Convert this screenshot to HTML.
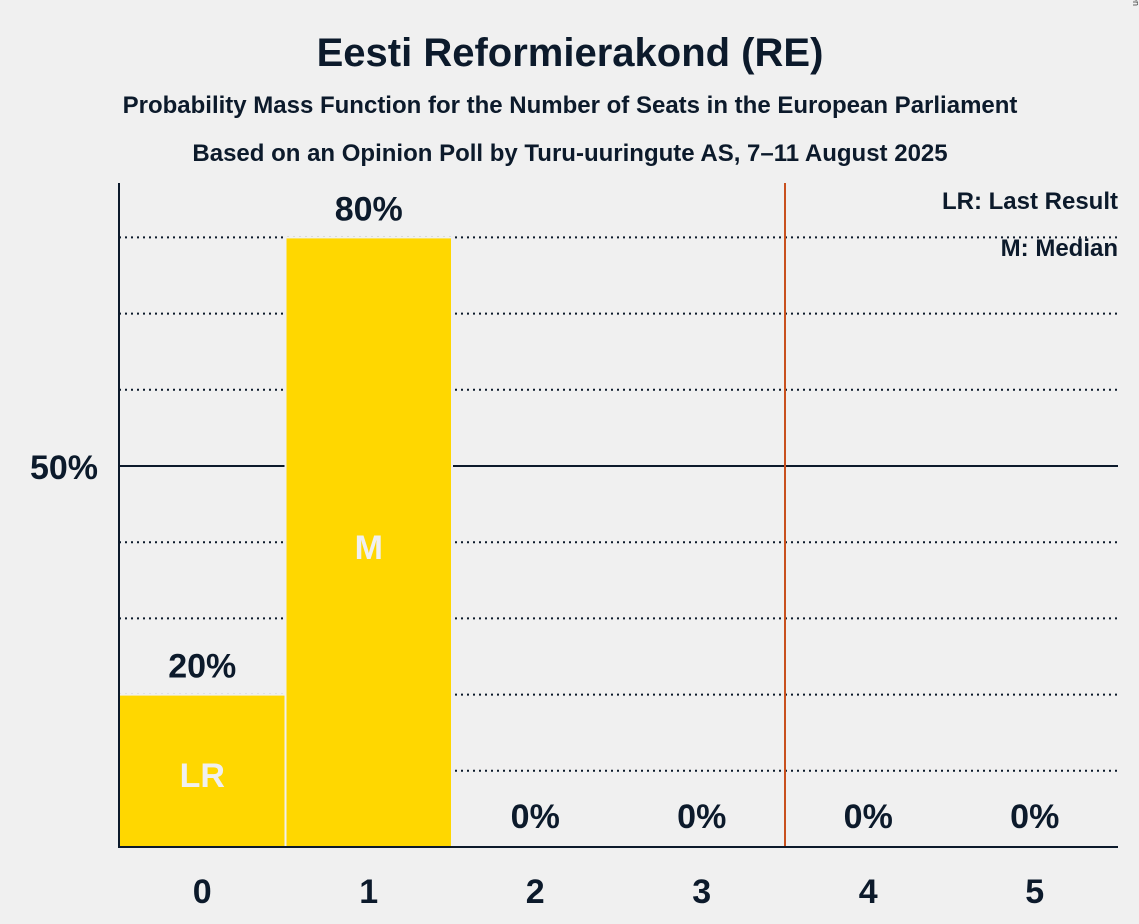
<!DOCTYPE html>
<html><head><meta charset="utf-8"><style>
body{margin:0;background:#f0f0f0;}
svg{display:block;font-family:"Liberation Sans",sans-serif;}
</style></head><body>
<svg id="c" width="1139" height="924" viewBox="0 0 1139 924">
<rect width="1139" height="924" fill="#f0f0f0"/>
<text x="570" y="66" text-anchor="middle" font-size="40" font-weight="bold" fill="#0c1a2b">Eesti Reformierakond (RE)</text>
<text x="570" y="113" text-anchor="middle" font-size="24" font-weight="bold" fill="#0c1a2b">Probability Mass Function for the Number of Seats in the European Parliament</text>
<text x="570" y="161" text-anchor="middle" font-size="24" font-weight="bold" fill="#0c1a2b">Based on an Opinion Poll by Turu-uuringute AS, 7–11 August 2025</text>
<text x="1133" y="6" transform="rotate(90 1133 6)" font-size="9" fill="#333" text-anchor="end" dx="0">© 2025 Filip van Laenen</text>
<g id="grid"></g>
<g id="bars"></g>
<line x1="785" y1="183" x2="785" y2="847" stroke="#c8501e" stroke-width="2"/>
<line x1="119" y1="183" x2="119" y2="848" stroke="#0c1a2b" stroke-width="2"/>
<line x1="118" y1="847" x2="1118" y2="847" stroke="#0c1a2b" stroke-width="2"/>
<text x="98" y="479" text-anchor="end" font-size="34" font-weight="bold" fill="#0c1a2b">50%</text>
<text x="1118" y="209" text-anchor="end" font-size="24" font-weight="bold" fill="#0c1a2b">LR: Last Result</text>
<text x="1118" y="256" text-anchor="end" font-size="24" font-weight="bold" fill="#0c1a2b">M: Median</text>
</svg>
<script>
const seats=[0,1,2,3,4,5];
const probs=[20,80,0,0,0,0];
const labels=["20%","80%","0%","0%","0%","0%"];
const inner=["LR","M","","","",""];
const x0=119,x1=1118,y0=847,ppp=7.62;
const bw=(x1-x0)/seats.length;
const xs=i=>x0+i*bw;
const ys=v=>y0-v*ppp;
const ns="http://www.w3.org/2000/svg";
const g=document.getElementById('grid'),b=document.getElementById('bars');
for(let v=10;v<=80;v+=10){
 const l=document.createElementNS(ns,'line');
 l.setAttribute('x1',x0);l.setAttribute('x2',x1);l.setAttribute('y1',ys(v));l.setAttribute('y2',ys(v));
 l.setAttribute('stroke','#0c1a2b');
 if(v===50){l.setAttribute('stroke-width','2');}else{l.setAttribute('stroke-width','2');l.setAttribute('stroke-dasharray','2 4');}
 
 
 g.appendChild(l);
}
seats.forEach((s,i)=>{
 const cx=xs(i)+bw/2;
 if(probs[i]>0){
  const r=document.createElementNS(ns,'rect');
  r.setAttribute('x',xs(i));r.setAttribute('y',ys(probs[i]));r.setAttribute('width',bw);r.setAttribute('height',y0-ys(probs[i]));
  r.setAttribute('fill','#ffd700');r.setAttribute('stroke','#f0f0f0');r.setAttribute('stroke-width','2');
  
  
  b.appendChild(r);
 }
 const t=document.createElementNS(ns,'text');
 t.setAttribute('x',cx);t.setAttribute('y',probs[i]>0?ys(probs[i])-17:y0-19);
 t.setAttribute('text-anchor','middle');t.setAttribute('font-size','34');t.setAttribute('font-weight','bold');t.setAttribute('fill','#0c1a2b');
 t.textContent=labels[i];
 
 
 b.appendChild(t);
 if(inner[i]){
  const m=document.createElementNS(ns,'text');
  m.setAttribute('x',cx);m.setAttribute('y',i===0?787:559);
  m.setAttribute('text-anchor','middle');m.setAttribute('font-size','34');m.setAttribute('font-weight','bold');m.setAttribute('fill','#f0f0f0');
  m.textContent=inner[i];
  
  
  b.appendChild(m);
 }
 const xt=document.createElementNS(ns,'text');
 xt.setAttribute('x',cx);xt.setAttribute('y',903);
 xt.setAttribute('text-anchor','middle');xt.setAttribute('font-size','34');xt.setAttribute('font-weight','bold');xt.setAttribute('fill','#0c1a2b');
 xt.textContent=s;
 
 
 b.appendChild(xt);
});
</script>
</body></html>
